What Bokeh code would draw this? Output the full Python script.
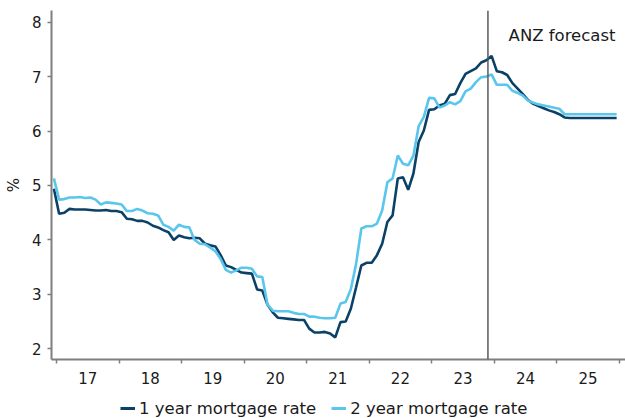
import pandas as pd
from bokeh.plotting import figure
from bokeh.layouts import column
from bokeh.models import FixedTicker, Span, Label, Legend, LegendItem, Range1d
from bokeh.embed import file_html
from bokeh.resources import INLINE

# Monthly observations, Dec 2016 .. Dec 2025 (ANZ forecast from Dec 2023)
start_month = "2016-12-01"
rate_1yr = [
    4.94, 4.48, 4.50, 4.57, 4.56, 4.56, 4.56, 4.55, 4.54, 4.54, 4.55, 4.53,
    4.53, 4.51, 4.39, 4.38, 4.35, 4.35, 4.32, 4.26, 4.23, 4.18, 4.14, 4.00,
    4.08, 4.05, 4.03, 4.04, 4.03, 3.93, 3.90, 3.88, 3.72, 3.53, 3.50, 3.45,
    3.40, 3.39, 3.38, 3.09, 3.07, 2.81, 2.67, 2.57, 2.56, 2.55, 2.54, 2.53,
    2.53, 2.37, 2.30, 2.30, 2.31, 2.28, 2.21, 2.49, 2.50, 2.74, 3.13, 3.53,
    3.58, 3.58, 3.72, 3.93, 4.33, 4.45, 5.13, 5.15, 4.92, 5.22, 5.80, 6.01,
    6.39, 6.40, 6.47, 6.50, 6.66, 6.68, 6.88, 7.05, 7.10, 7.15, 7.26, 7.30,
    7.38, 7.10, 7.08, 7.03, 6.88, 6.78, 6.68, 6.57, 6.50, 6.46, 6.42, 6.38,
    6.35, 6.31, 6.25, 6.24, 6.24, 6.24, 6.24, 6.24, 6.24, 6.24, 6.24, 6.24,
    6.24,
]
rate_2yr = [
    5.13, 4.74, 4.75, 4.78, 4.78, 4.79, 4.77, 4.78, 4.74, 4.65, 4.69, 4.68,
    4.67, 4.65, 4.53, 4.53, 4.57, 4.54, 4.49, 4.48, 4.45, 4.28, 4.24, 4.17,
    4.28, 4.24, 4.23, 4.00, 3.93, 3.92, 3.86, 3.79, 3.65, 3.45, 3.40, 3.44,
    3.49, 3.49, 3.47, 3.33, 3.32, 2.81, 2.70, 2.69, 2.69, 2.69, 2.66, 2.64,
    2.64, 2.59, 2.59, 2.57, 2.56, 2.56, 2.57, 2.83, 2.86, 3.10, 3.56, 4.21,
    4.25, 4.25, 4.30, 4.54, 5.06, 5.13, 5.55, 5.40, 5.37, 5.55, 6.09, 6.26,
    6.61, 6.60, 6.43, 6.47, 6.53, 6.49, 6.55, 6.73, 6.78, 6.90, 6.99, 7.00,
    7.04, 6.85, 6.85, 6.85, 6.74, 6.70, 6.65, 6.56, 6.52, 6.49, 6.47, 6.45,
    6.43, 6.41, 6.31, 6.31, 6.31, 6.31, 6.31, 6.31, 6.31, 6.31, 6.31, 6.31,
    6.31,
]
year_labels = ["17", "18", "19", "20", "21", "22", "23", "24", "25"]
first_year = 2017
y_ticks = [2, 3, 4, 5, 6, 7, 8]
forecast_start = 2023.9
series_names = ["1 year mortgage rate", "2 year mortgage rate"]
forecast_text = "ANZ forecast"

dates = pd.date_range(start_month, periods=len(rate_1yr), freq="MS")
xs = list(dates.year + (dates.month - 0.5) / 12.0)

DARK = "#0b4166"
LIGHT = "#5bc6ec"
FONT = "DejaVu Sans"

p = figure(width=625, height=390, output_backend="svg", toolbar_location=None,
           x_range=Range1d(2016.92, 2026.10), y_range=Range1d(1.803, 8.215),
           min_border_left=51, min_border_right=0, min_border_top=10,
           min_border_bottom=31)
p.outline_line_color = None
p.grid.visible = False
p.background_fill_color = "white"
p.border_fill_color = "white"

r1 = p.line(xs, rate_1yr, line_color=DARK, line_width=2.6)
r2 = p.line(xs, rate_2yr, line_color=LIGHT, line_width=2.6)

# x axis: boundaries as minor ticks, year labels centred mid-year
mid = [first_year + i + 0.5 for i in range(len(year_labels))]
bounds = [first_year + i for i in range(len(year_labels) + 1)]
p.xaxis.ticker = FixedTicker(ticks=mid, minor_ticks=bounds)
p.xaxis.major_label_overrides = {m: lab for m, lab in zip(mid, year_labels)}
p.xaxis.major_tick_line_color = None
p.xaxis.major_tick_out = 0
p.xaxis.major_tick_in = 0
p.xaxis.minor_tick_line_color = "#7f7f7f"
p.xaxis.minor_tick_out = 4
p.xaxis.minor_tick_in = 0
p.xaxis.minor_tick_line_width = 1.5
p.xaxis.major_label_standoff = 8

p.yaxis.ticker = FixedTicker(ticks=y_ticks)
p.yaxis.minor_tick_line_color = None
p.yaxis.major_tick_out = 4
p.yaxis.major_tick_in = 0
p.yaxis.major_tick_line_color = "#7f7f7f"
p.yaxis.major_tick_line_width = 1.5
p.yaxis.major_label_standoff = 6
p.yaxis.axis_label = "%"
p.yaxis.axis_label_standoff = 6
p.yaxis.axis_label_text_font_style = "normal"
p.yaxis.axis_label_text_font_size = "15px"
p.yaxis.axis_label_text_font = FONT
p.yaxis.axis_label_text_color = "#1a1a1a"

for ax in (p.xaxis, p.yaxis):
    ax.axis_line_color = "#7f7f7f"
    ax.axis_line_width = 2
    ax.major_label_text_font = FONT
    ax.major_label_text_font_size = "15px"
    ax.major_label_text_color = "#1a1a1a"

p.add_layout(Span(location=forecast_start, dimension="height",
                  line_color="#595959", line_width=1.5))
p.add_layout(Label(x=2025.94, y=7.755, text=forecast_text, text_align="right",
                   text_baseline="alphabetic", text_font=FONT,
                   text_font_size="16.5px", text_color="#1a1a1a"))

# legend row underneath the chart
q = figure(width=625, height=28, output_backend="svg", toolbar_location=None,
           x_range=Range1d(0, 1), y_range=Range1d(0, 1),
           x_axis_type=None, y_axis_type=None,
           min_border_left=51, min_border_right=0, min_border_top=0,
           min_border_bottom=0)
q.outline_line_color = None
q.grid.visible = False
nan = float("nan")
k1 = q.line([nan], [nan], line_color=DARK, line_width=3)
k2 = q.line([nan], [nan], line_color=LIGHT, line_width=3)
legend = Legend(items=[LegendItem(label=series_names[0], renderers=[k1]),
                       LegendItem(label=series_names[1], renderers=[k2])],
                orientation="horizontal", location=(69, 0),
                label_text_font=FONT, label_text_font_size="16.5px",
                label_text_color="#1a1a1a", glyph_width=15, glyph_height=20,
                label_height=20, label_standoff=4, spacing=15, padding=0,
                margin=0, border_line_color=None, background_fill_alpha=0)
q.add_layout(legend, "center")

layout = column(p, q, spacing=0)
open("out.html", "w").write(file_html(layout, INLINE))
